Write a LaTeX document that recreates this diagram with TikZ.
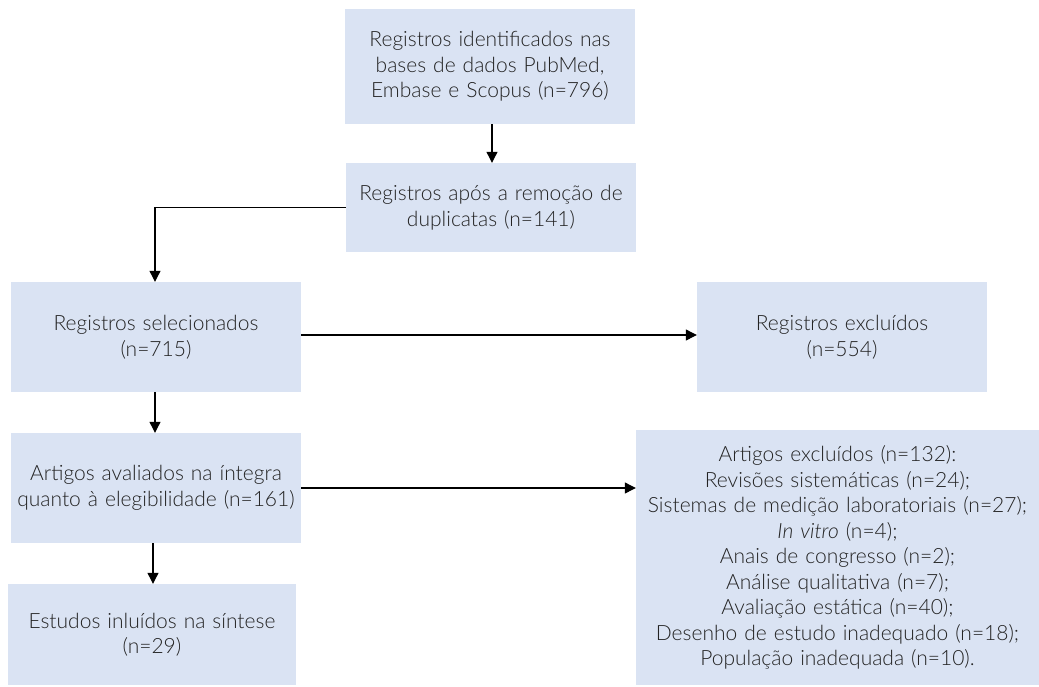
\documentclass[tikz,border=0pt]{standalone}
\usepackage{fontspec}
\setmainfont{Lato}[UprightFont={* Light},ItalicFont={* Light Italic},BoldFont={* Regular}]
\usetikzlibrary{arrows.meta,positioning}
\definecolor{boxblue}{RGB}{218,227,243}
\definecolor{txt}{RGB}{35,35,35}
\tikzset{
  pbox/.style={fill=boxblue,draw=none,inner sep=0pt,align=center,text=txt,
    font=\fontsize{21}{25.5}\selectfont},
  conn/.style={draw=black,line width=1.1pt,-{Triangle[width=11pt,length=11pt]}}
}
\begin{document}
\begin{tikzpicture}[x=1pt,y=-1pt]
\useasboundingbox (0,0) rectangle (1039,686);
\node[pbox,minimum width=290pt,minimum height=115pt,text width=285pt] (b1) at (490,66.5)
  {Registros identificados nas\\bases de dados PubMed,\\Embase e Scopus (n=796)};
\node[pbox,minimum width=290pt,minimum height=89pt,text width=285pt] (b2) at (491,207.5)
  {Registros após a remoção de\\duplicatas (n=141)};
\node[pbox,minimum width=290pt,minimum height=110pt,text width=285pt] (b3) at (156,337)
  {Registros selecionados\\(n=715)};
\node[pbox,minimum width=290pt,minimum height=110pt,text width=285pt] (b5) at (842,337)
  {Registros excluídos\\(n=554)};
\node[pbox,minimum width=290pt,minimum height=110pt,text width=285pt] (b4) at (156,488)
  {Artigos avaliados na íntegra\\quanto à elegibilidade (n=161)};
\node[pbox,minimum width=403pt,minimum height=255pt,text width=400pt] (b7) at (837.5,557.5)
  {Artigos excluídos (n=132):\\Revisões sistemáticas (n=24);\\Sistemas de medição laboratoriais (n=27);\\\textit{In vitro} (n=4);\\Anais de congresso (n=2);\\Análise qualitativa (n=7);\\Avaliação estática (n=40);\\Desenho de estudo inadequado (n=18);\\População inadequada (n=10).};
\node[pbox,minimum width=288pt,minimum height=101pt,text width=285pt] (b6) at (152,634.5)
  {Estudos inluídos na síntese\\(n=29)};
\draw[conn] (b1.south -| 492,0) -- (b2.north -| 492,0);
\draw[conn] (b2.west) -| (b3.north -| 155,0);
\draw[conn] (b3.east |- 0,335) -- (b5.west |- 0,335);
\draw[conn] (b3.south -| 155,0) -- (b4.north -| 155,0);
\draw[conn] (b4.east |- 0,488) -- (b7.west |- 0,488);
\draw[conn] (b4.south -| 153,0) -- (b6.north -| 153,0);
\end{tikzpicture}
\end{document}
